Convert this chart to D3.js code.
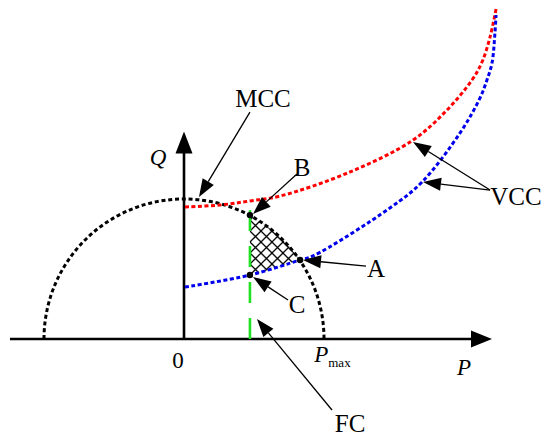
<!DOCTYPE html>
<html>
<head>
<meta charset="utf-8">
<script src="https://cdn.jsdelivr.net/npm/d3@7"></script>
<style>
  html, body { margin: 0; padding: 0; background: #fff; }
  text { font-family: "Liberation Serif", "Times New Roman", serif; fill: #000; }
</style>
</head>
<body>
<div id="container"></div>
<script>
// P-Q capability plane, one unit = Pmax
const pMax = 1;

// FC operating line (P = const)
const fcP = 0.471;
const fcTop = 0.92;

// VCC curve (red, upper)
const redP = [0.007, 0.257, 0.471, 0.686, 1.186, 1.636, 1.879, 2.057, 2.129, 2.186, 2.229];
const redQ = [0.943, 0.957, 0.986, 1.021, 1.193, 1.421, 1.636, 1.850, 1.979, 2.157, 2.357];

// VCC curve (blue, lower)
const blueP = [0.007, 0.471, 0.829, 0.921, 1.471, 1.700, 1.971, 2.114, 2.164, 2.200, 2.221, 2.229];
const blueQ = [0.371, 0.457, 0.564, 0.593, 0.936, 1.121, 1.471, 1.721, 1.850, 1.971, 2.186, 2.314];

// marked points
const pointNames = ["B", "C", "A"];
const pointP = [0.471, 0.471, 0.829];
const pointQ = [0.885, 0.457, 0.564];

// callout labels
const labelText = ["MCC", "B", "C", "A", "FC", "VCC"];
const labelP = [0.564, 0.843, 0.807, 1.371, 1.186, 2.371];
const labelQ = [1.657, 1.164, 0.186, 0.443, -0.664, 0.957];

// callout arrows: start -> tip
const arrowFromP = [0.471, 0.807, 0.743, 1.300, 1.057, 2.186, 2.186];
const arrowFromQ = [1.621, 1.179, 0.279, 0.521, -0.507, 1.064, 1.064];
const arrowToP = [0.107, 0.493, 0.493, 0.850, 0.521, 1.636, 1.707];
const arrowToQ = [1.014, 0.893, 0.443, 0.564, 0.143, 1.407, 1.121];

const width = 550;
const height = 440;

const svg = d3.select("#container")
    .append("svg")
    .attr("width", width)
    .attr("height", height);

const x = d3.scaleLinear().domain([0, 1]).range([184, 324]);
const y = d3.scaleLinear().domain([0, 1]).range([339, 199]);

const line = d3.line()
    .x(d => x(d[0]))
    .y(d => y(d[1]))
    .curve(d3.curveCatmullRom.alpha(0.5));

const red = redP.map((p, i) => [p, redQ[i]]);
const blue = blueP.map((p, i) => [p, blueQ[i]]);

// filled arrow head helper
function arrowHead(g, x1, y1, x2, y2, len, half) {
    const a = Math.atan2(y2 - y1, x2 - x1);
    const bx = x2 - len * Math.cos(a), by = y2 - len * Math.sin(a);
    const px = -Math.sin(a) * half, py = Math.cos(a) * half;
    g.append("path")
        .attr("d", `M${x2},${y2}L${bx + px},${by + py}L${bx - px},${by - py}Z`)
        .attr("fill", "#000");
    return [bx, by];
}

// hatch pattern
const defs = svg.append("defs");
defs.append("pattern")
    .attr("id", "hatch")
    .attr("patternUnits", "userSpaceOnUse")
    .attr("x", x(fcP))
    .attr("y", y(0.457))
    .attr("width", 11)
    .attr("height", 11)
    .append("path")
    .attr("d", "M0,0L11,11M11,0L0,11")
    .attr("stroke", "#000")
    .attr("stroke-width", 1.3);

const r = x(pMax) - x(0);
defs.append("clipPath").attr("id", "disk")
    .append("circle")
    .attr("cx", x(0)).attr("cy", y(0)).attr("r", r);

defs.append("clipPath").attr("id", "aboveBlue")
    .append("path")
    .attr("d", line(blue) + `L${x(2.4)},${y(3)}L${x(0)},${y(3)}Z`);

svg.append("g")
    .attr("clip-path", "url(#disk)")
    .append("g")
    .attr("clip-path", "url(#aboveBlue)")
    .append("rect")
    .attr("x", x(fcP))
    .attr("y", y(pMax))
    .attr("width", x(pMax) - x(fcP))
    .attr("height", y(0) - y(pMax))
    .attr("fill", "url(#hatch)");

// axes
const axes = svg.append("g");
axes.append("line")
    .attr("x1", x(-1.243)).attr("y1", y(0))
    .attr("x2", x(2.06)).attr("y2", y(0))
    .attr("stroke", "#000").attr("stroke-width", 2.6);
arrowHead(axes, x(-1.243), y(0), x(2.2), y(0), 21, 8.5);

axes.append("line")
    .attr("x1", x(0)).attr("y1", y(0))
    .attr("x2", x(0)).attr("y2", y(1.36))
    .attr("stroke", "#000").attr("stroke-width", 2.6);
arrowHead(axes, x(0), y(0), x(0), y(1.483), 22, 8.5);

// MCC semicircle
svg.append("path")
    .attr("d", `M${x(-pMax)},${y(0)}A${r},${r} 0 0 1 ${x(pMax)},${y(0)}`)
    .attr("fill", "none")
    .attr("stroke", "#000")
    .attr("stroke-width", 3)
    .attr("stroke-dasharray", "4,2.8");

// FC line
svg.append("line")
    .attr("x1", x(fcP)).attr("y1", y(0))
    .attr("x2", x(fcP)).attr("y2", y(fcTop))
    .attr("stroke", "#22e022")
    .attr("stroke-width", 2.6)
    .attr("stroke-dasharray", "21,15");

// VCC curves
svg.append("path")
    .attr("d", line(red))
    .attr("fill", "none")
    .attr("stroke", "#ff0000")
    .attr("stroke-width", 3)
    .attr("stroke-dasharray", "4,2.5");

svg.append("path")
    .attr("d", line(blue))
    .attr("fill", "none")
    .attr("stroke", "#0000ee")
    .attr("stroke-width", 3)
    .attr("stroke-dasharray", "4,2.5");

// points
svg.append("g")
    .selectAll("circle")
    .data(pointNames)
    .join("circle")
    .attr("cx", (d, i) => x(pointP[i]))
    .attr("cy", (d, i) => y(pointQ[i]))
    .attr("r", 3.2)
    .attr("fill", "#000");

// callouts
const callouts = svg.append("g");
arrowFromP.forEach((p, i) => {
    const x1 = x(p), y1 = y(arrowFromQ[i]);
    const x2 = x(arrowToP[i]), y2 = y(arrowToQ[i]);
    const [bx, by] = arrowHead(callouts, x1, y1, x2, y2, 18, 6.5);
    callouts.append("line")
        .attr("x1", x1).attr("y1", y1)
        .attr("x2", bx).attr("y2", by)
        .attr("stroke", "#000")
        .attr("stroke-width", 1.3);
});

svg.append("g")
    .selectAll("text")
    .data(labelText)
    .join("text")
    .attr("x", (d, i) => x(labelP[i]))
    .attr("y", (d, i) => y(labelQ[i]))
    .attr("text-anchor", "middle")
    .attr("font-size", "25px")
    .text(d => d);

// axis labels
svg.append("text")
    .attr("x", x(-0.186)).attr("y", y(1.243))
    .attr("text-anchor", "middle")
    .attr("font-size", "23px")
    .attr("font-style", "italic")
    .text("Q");

svg.append("text")
    .attr("x", x(-0.043)).attr("y", y(-0.207))
    .attr("text-anchor", "middle")
    .attr("font-size", "23px")
    .text("0");

const pm = svg.append("text")
    .attr("x", x(0.93)).attr("y", y(-0.164))
    .attr("font-size", "23px");
pm.append("tspan").attr("font-style", "italic").text("P");
pm.append("tspan").attr("font-size", "13px").attr("dy", 5).text("max");

svg.append("text")
    .attr("x", x(2.0)).attr("y", y(-0.257))
    .attr("text-anchor", "middle")
    .attr("font-size", "23px")
    .attr("font-style", "italic")
    .text("P");
</script>
</body>
</html>
